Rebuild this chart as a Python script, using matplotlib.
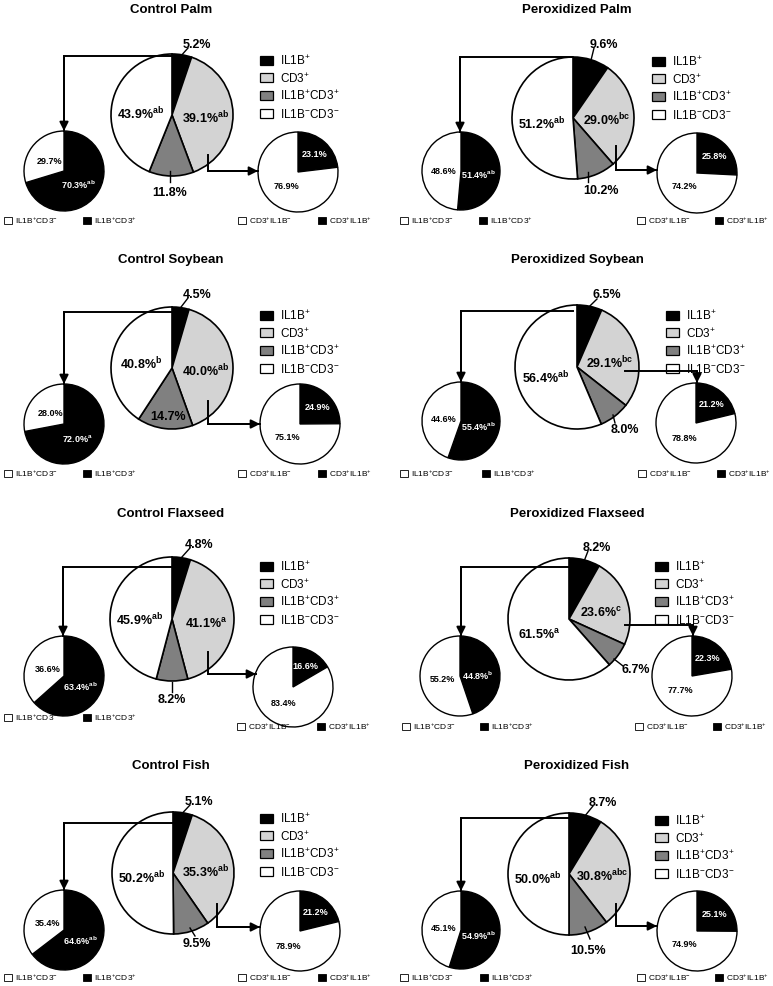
import matplotlib.pyplot as plt
from matplotlib.patches import Rectangle
import math

plt.rcParams['font.family'] = ['Liberation Sans', 'DejaVu Sans']
plt.rcParams['mathtext.fontset'] = 'custom'
plt.rcParams['mathtext.rm'] = 'Liberation Sans'
plt.rcParams['mathtext.bf'] = 'Liberation Sans:bold'
plt.rcParams['mathtext.it'] = 'Liberation Sans:italic'

titles = ["Control Palm", "Peroxidized Palm", "Control Soybean", "Peroxidized Soybean",
          "Control Flaxseed", "Peroxidized Flaxseed", "Control Fish", "Peroxidized Fish"]

# big pie: IL1B+, CD3+, IL1B+CD3+, IL1B-CD3-
il1b = [5.2, 9.6, 4.5, 6.5, 4.8, 8.2, 5.1, 8.7]
cd3 = [39.1, 29.0, 40.0, 29.1, 41.1, 23.6, 35.3, 30.8]
double = [11.8, 10.2, 14.7, 8.0, 8.2, 6.7, 9.5, 10.5]
neg = [43.9, 51.2, 40.8, 56.4, 45.9, 61.5, 50.2, 50.0]
cd3_sig = ['ab', 'bc', 'ab', 'bc', 'a', 'c', 'ab', 'abc']
neg_sig = ['ab', 'ab', 'b', 'ab', 'ab', 'a', 'ab', 'ab']

# left pie: IL1B+ cells, CD3+ / CD3-
il1b_cd3pos = [70.3, 51.4, 72.0, 55.4, 63.4, 44.8, 64.6, 54.9]
il1b_cd3neg = [29.7, 48.6, 28.0, 44.6, 36.6, 55.2, 35.4, 45.1]
il1b_sig = ['ab', 'ab', 'a', 'ab', 'ab', 'b', 'ab', 'ab']

# right pie: CD3+ cells, IL1B+ / IL1B-
cd3_il1bpos = [23.1, 25.8, 24.9, 21.2, 16.6, 22.3, 21.2, 25.1]
cd3_il1bneg = [76.9, 74.2, 75.1, 78.8, 83.4, 77.7, 78.9, 74.9]

main_colors = ['black', '#d3d3d3', '#808080', 'white']
main_names = [r'IL1B$^{+}$', r'CD3$^{+}$', r'IL1B$^{+}$CD3$^{+}$', r'IL1B$^{-}$CD3$^{-}$']
left_names = [r'IL1B$^{+}$CD3$^{-}$', r'IL1B$^{+}$CD3$^{+}$']
right_names = [r'CD3$^{+}$IL1B$^{-}$', r'CD3$^{+}$IL1B$^{+}$']

# layout in pixels (y from top)
layout = [
    dict(title=(171, 10), main=(172, 116, 61), left=(64, 172, 40), right=(298, 173, 40),
         leg=(260, 61), bl=(221, 4, 83), br=(221, 238, 318),
         top=(197, 45, 188, 49), dbl=(170, 193, (170, 172, 170, 183)),
         larrow=[(172, 57), (64, 57), (64, 132)], rarrow=[(208, 156), (208, 172), (258, 172)]),
    dict(title=(577, 10), main=(573, 119, 61), left=(461, 172, 39), right=(697, 174, 40),
         leg=(652, 62), bl=(221, 400, 479), br=(221, 637, 715),
         top=(604, 45, 594, 49), dbl=(601, 191, (588, 173, 588, 183)),
         larrow=[(572, 58), (460, 58), (460, 133)], rarrow=[(616, 147), (616, 171), (657, 171)]),
    dict(title=(171, 260), main=(172, 369, 61), left=(64, 425, 40), right=(300, 425, 40),
         leg=(260, 316), bl=(474, 4, 83), br=(474, 238, 318),
         top=(197, 295, 188, 299), dbl=(168, 417, None),
         larrow=[(172, 313), (64, 313), (64, 385)], rarrow=[(208, 402), (208, 425), (260, 425)]),
    dict(title=(577, 260), main=(577, 368, 62), left=(461, 422, 39), right=(696, 424, 40),
         leg=(666, 316), bl=(474, 400, 482), br=(474, 638, 717),
         top=(607, 295, 597, 300), dbl=(625, 430, (613, 416, 615, 424)),
         larrow=[(573, 312), (461, 312), (461, 383)], rarrow=[(625, 372), (697, 372), (697, 384)]),
    dict(title=(171, 514), main=(172, 620, 62), left=(64, 677, 40), right=(293, 688, 40),
         leg=(260, 567), bl=(718, 4, 83), br=(727, 237, 317),
         top=(199, 545, 190, 549), dbl=(172, 700, (172, 683, 172, 693)),
         larrow=[(172, 568), (63, 568), (63, 637)], rarrow=[(208, 653), (208, 675), (256, 675)]),
    dict(title=(577, 514), main=(569, 620, 61), left=(460, 677, 40), right=(692, 677, 40),
         leg=(655, 567), bl=(727, 402, 480), br=(727, 635, 713),
         top=(597, 548, 588, 552), dbl=(636, 670, (614, 660, 623, 667)),
         larrow=[(570, 568), (461, 568), (461, 637)], rarrow=[(625, 626), (693, 626), (693, 637)]),
    dict(title=(171, 766), main=(173, 874, 61), left=(64, 931, 40), right=(300, 932, 40),
         leg=(260, 819), bl=(978, 4, 83), br=(978, 238, 318),
         top=(199, 802, 190, 806), dbl=(197, 944, (190, 929, 195, 937)),
         larrow=[(173, 824), (64, 824), (64, 891)], rarrow=[(217, 905), (217, 928), (260, 928)]),
    dict(title=(577, 766), main=(569, 875, 61), left=(461, 931, 39), right=(697, 932, 40),
         leg=(655, 821), bl=(978, 400, 480), br=(978, 637, 715),
         top=(603, 803, 593, 807), dbl=(588, 951, (585, 928, 590, 940)),
         larrow=[(570, 819), (461, 819), (461, 892)], rarrow=[(616, 905), (616, 927), (657, 927)]),
]

fig = plt.figure(figsize=(7.73, 9.87), dpi=100)
ax = fig.add_axes([0, 0, 1, 1])


def pie(vals, cx, cy, r, colors, lw):
    # y axis is flipped, so startangle=-90 + counterclock draws from top, clockwise
    w, _ = ax.pie(vals, colors=colors, center=(cx, cy), radius=r, startangle=-90,
                  counterclock=True, wedgeprops=dict(edgecolor='black', linewidth=lw),
                  frame=True)
    return w


def spot(wedge, cx, cy, d):
    a = math.radians((wedge.theta1 + wedge.theta2) / 2)
    return cx + d * math.cos(a), cy + d * math.sin(a)


def arrow(path):
    xs = [p[0] for p in path]
    ys = [p[1] for p in path]
    ax.plot(xs[:-1] + [xs[-1]], ys[:-1] + [ys[-1]], color='black', lw=1.4,
            solid_joinstyle='miter')
    ax.annotate('', xy=path[-1], xytext=path[-2],
                arrowprops=dict(arrowstyle='-|>', color='black', lw=1.4,
                                mutation_scale=13, shrinkA=0, shrinkB=0))


for i, L in enumerate(layout):
    ax.text(*L['title'], titles[i], ha='center', va='center', fontsize=9.5, fontweight='bold')

    # main pie
    mx, my, mr = L['main']
    w = pie([il1b[i], cd3[i], double[i], neg[i]], mx, my, mr, main_colors, 1.2)
    x, y = spot(w[1], mx, my, 0.55 * mr)
    ax.text(x, y + 3, f"{cd3[i]:.1f}%" + r"$^{\mathbf{" + cd3_sig[i] + "}}$",
            ha='center', va='center', fontsize=9, fontweight='bold')
    x, y = spot(w[3], mx, my, 0.52 * mr)
    ax.text(x, y + 4, f"{neg[i]:.1f}%" + r"$^{\mathbf{" + neg_sig[i] + "}}$",
            ha='center', va='center', fontsize=9, fontweight='bold')

    tx, ty, ex, ey = L['top']
    sx, sy = spot(w[0], mx, my, mr)
    ax.plot([sx, ex], [sy, ey], color='black', lw=1.0)
    ax.text(tx, ty, f"{il1b[i]:.1f}%", ha='center', va='center', fontsize=9, fontweight='bold')

    dx, dy, lead = L['dbl']
    if lead is not None:
        ax.plot([lead[0], lead[2]], [lead[1], lead[3]], color='black', lw=1.0)
    ax.text(dx, dy, f"{double[i]:.1f}%", ha='center', va='center', fontsize=9, fontweight='bold')

    # main legend
    lx, ly = L['leg']
    for k in range(4):
        yy = ly + k * 17.7
        ax.add_patch(Rectangle((lx, yy - 4.5), 13, 9, facecolor=main_colors[k],
                               edgecolor='black', lw=0.9))
        ax.text(lx + 20, yy, main_names[k], ha='left', va='center', fontsize=8.5)

    # left pie (IL1B+ cells)
    cx, cy, cr = L['left']
    w = pie([il1b_cd3pos[i], il1b_cd3neg[i]], cx, cy, cr, ['black', 'white'], 1.0)
    x, y = spot(w[0], cx, cy, 0.45 * cr)
    ax.text(x, y + 2, f"{il1b_cd3pos[i]:.1f}%" + r"$^{\mathbf{" + il1b_sig[i] + "}}$",
            ha='center', va='center', fontsize=6.5, fontweight='bold', color='white')
    x, y = spot(w[1], cx, cy, 0.45 * cr)
    ax.text(x, y, f"{il1b_cd3neg[i]:.1f}%", ha='center', va='center',
            fontsize=6.5, fontweight='bold')

    # right pie (CD3+ cells)
    cx, cy, cr = L['right']
    w = pie([cd3_il1bpos[i], cd3_il1bneg[i]], cx, cy, cr, ['black', 'white'], 1.0)
    x, y = spot(w[0], cx, cy, 0.62 * cr)
    ax.text(x, y, f"{cd3_il1bpos[i]:.1f}%", ha='center', va='center',
            fontsize=6.5, fontweight='bold', color='white')
    x, y = spot(w[1], cx, cy, 0.45 * cr)
    ax.text(x, y, f"{cd3_il1bneg[i]:.1f}%", ha='center', va='center',
            fontsize=6.5, fontweight='bold')

    # small legends
    for (yy, x1, x2), names in ((L['bl'], left_names), (L['br'], right_names)):
        for xx, nm, col in ((x1, names[0], 'white'), (x2, names[1], 'black')):
            ax.add_patch(Rectangle((xx, yy - 3.5), 8, 7, facecolor=col, edgecolor='black', lw=0.6))
            ax.text(xx + 11, yy, nm, ha='left', va='center', fontsize=6)

    arrow(L['larrow'])
    arrow(L['rarrow'])

ax.set_xlim(0, 773)
ax.set_ylim(987, 0)
ax.set_aspect('auto')
ax.axis('off')

fig.savefig('out.png', dpi=100)
